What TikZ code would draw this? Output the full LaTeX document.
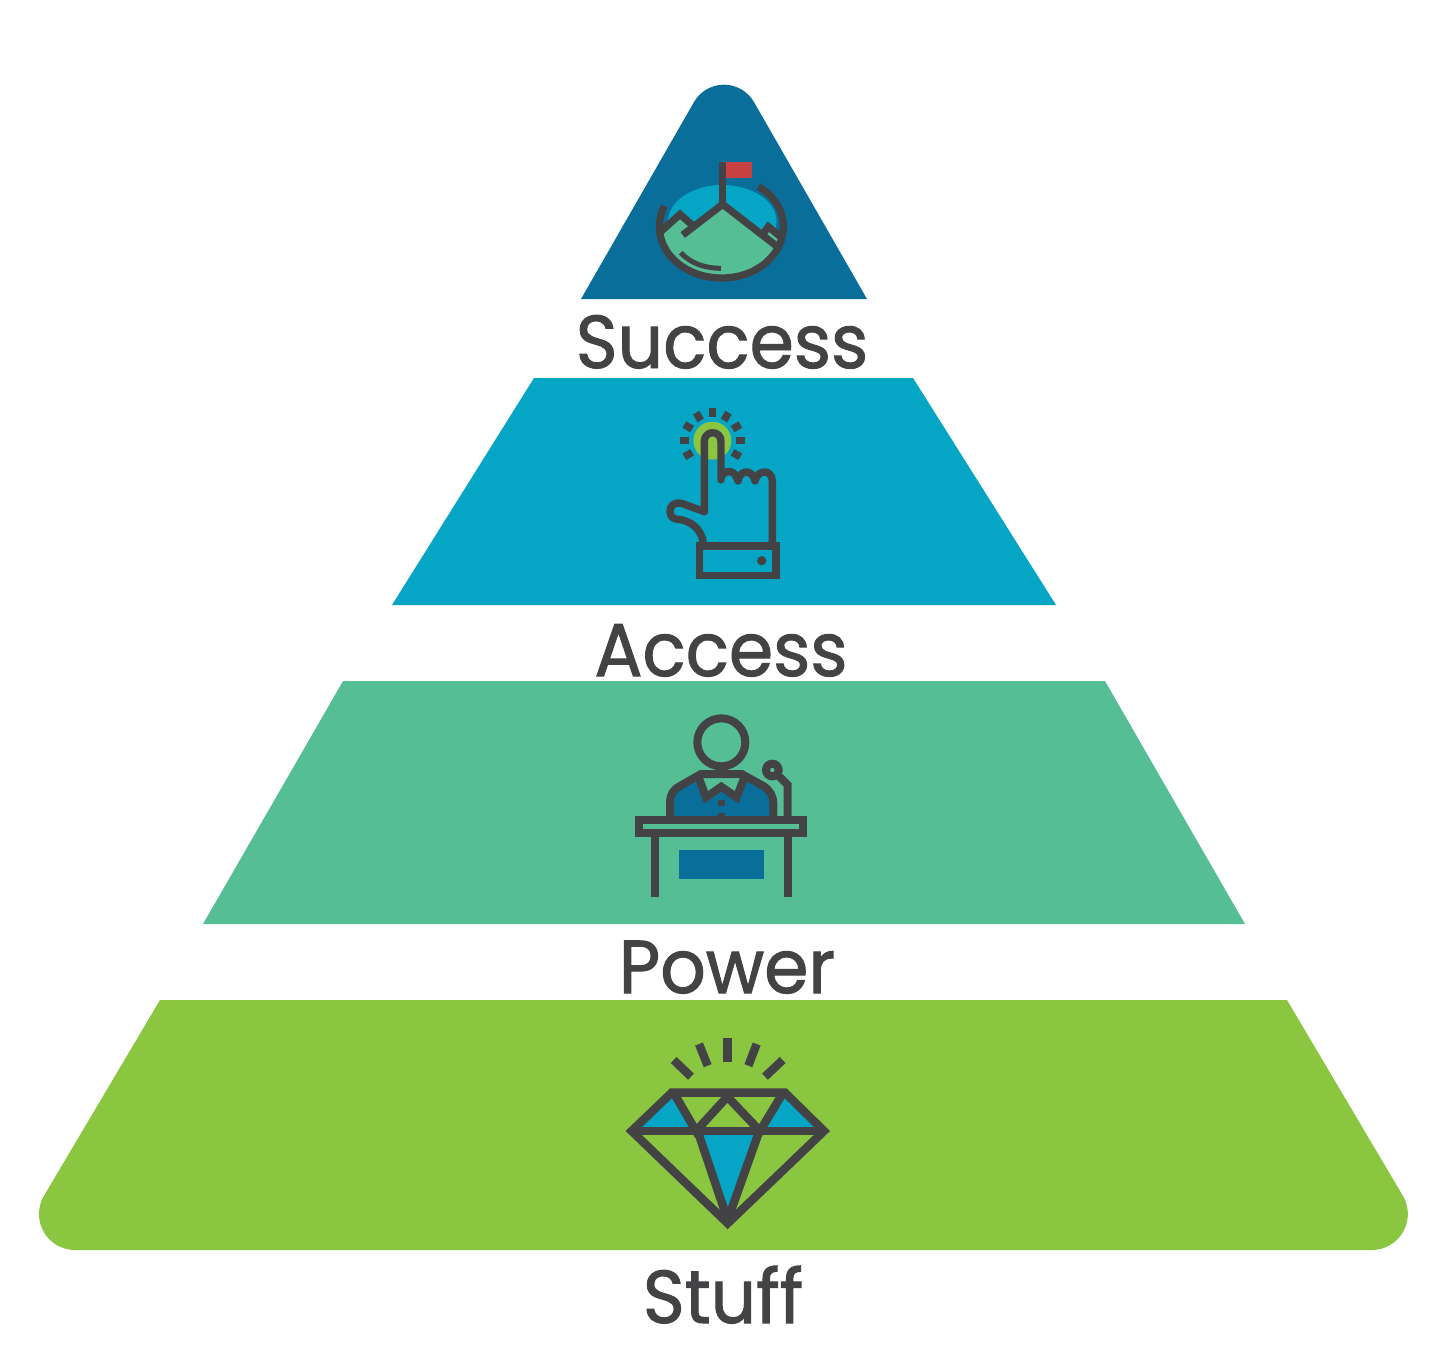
\documentclass[tikz,border=0pt]{standalone}
\usepackage{fontspec}
\setmainfont[FakeStretch=0.95,FakeBold=1.3]{Poppins}
\definecolor{navy}{HTML}{0A6E9B}
\definecolor{teal}{HTML}{05A5C6}
\definecolor{mint}{HTML}{56BE95}
\definecolor{lime}{HTML}{8BC641}
\definecolor{ink}{HTML}{434345}
\definecolor{flag}{HTML}{C8403F}
\tikzset{
  icon/.style n args={3}{shift={(#1pt,-#2pt)},x=0.33333pt,y=-0.33333pt,line width=#3pt,draw=ink,line join=miter},
  lbl/.style={anchor=base,text=ink,inner sep=0pt,font=\fontsize{75}{75}\selectfont}
}
\begin{document}
\begin{tikzpicture}[x=1pt,y=-1pt]
\useasboundingbox (0,0) rectangle (1456,1350);
% tiers
\fill[navy] (581,299) -- (694,102) arc [start angle=210,end angle=330,radius=34.6] -- (867,299) -- cycle;
\fill[teal] (534,378) -- (913,378) -- (1056,605) -- (392,605) -- cycle;
\fill[mint] (343,681) -- (1105,681) -- (1245,924) -- (203,924) -- cycle;
\fill[lime] (160,1000) -- (1287,1000) -- (1403,1196) arc [start angle=-30,end angle=90,radius=36] -- (75,1250) arc [start angle=90,end angle=210,radius=36] -- cycle;
% labels
\node[lbl] (success) at (722,368) {Success};
\node[lbl] (access) at (721,676) {Access};
\node[lbl] (power) at (727,993) {Power};
\node[lbl] (stuff) at (723,1323) {Stuff};
% mountain icon
\begin{scope}[icon={570}{70}{7.2}]
  \fill[teal] (457,455) ellipse [x radius=163,y radius=110];
  \fill[mint] (268,485) -- (330,435) -- (372,470) -- (458,403) -- (622,530) .. controls (590,590) and (530,624) .. (455,624) .. controls (350,624) and (268,560) .. (268,485) -- cycle;
  \fill[mint] (580,490) -- (595,470) -- (635,503) -- (622,530) -- cycle;
  \fill[flag] (468,275) rectangle (545,325);
  \draw (283,408) .. controls (272,430) and (268,450) .. (268,470) .. controls (268,555) and (350,624) .. (455,624) .. controls (560,624) and (640,555) .. (640,470) .. controls (640,420) and (610,375) .. (565,350);
  \draw (458,275) -- (458,403);
  \draw (338,495) -- (458,403) -- (622,530);
  \draw (272,485) -- (330,433) -- (372,470);
  \draw (580,490) -- (595,470) -- (635,503);
  \draw[line width=5pt] (332,548) .. controls (365,583) and (410,595) .. (453,595);
\end{scope}
% hand icon
\begin{scope}[icon={640}{400}{7.4}]
  \fill[lime] (217,122) circle [radius=57];
  \foreach \a in {-30,0,30,60,90,120,150,180,210}
    \draw ({217+70*cos(\a)},{122-70*sin(\a)}) -- ({217+97*cos(\a)},{122-97*sin(\a)});
  \draw[line join=round,line cap=round] (193,335) -- (193,123) arc [start angle=180,end angle=360,radius=25] -- (243,240);
  \draw[line join=round,line cap=round] (245,228) .. controls (258,208) and (285,208) .. (294,243) .. controls (300,207) and (338,207) .. (345,243) .. controls (352,208) and (397,205) .. (397,245) -- (397,430);
  \draw[line join=round,line cap=round] (193,335) -- (125,310) .. controls (100,305) and (90,320) .. (90,333) .. controls (90,350) and (100,358) .. (115,358) .. controls (150,362) and (185,385) .. (190,430);
  \draw (178,438) rectangle (408,526);
  \fill[ink] (365,482) circle [radius=14];
\end{scope}
% speaker icon
\begin{scope}[icon={620}{710}{8}]
  \fill[navy] (150,320) -- (150,280) .. controls (150,250) and (165,235) .. (180,228) -- (243,192) -- (365,192) -- (430,228) .. controls (450,240) and (460,260) .. (460,280) -- (460,320) -- cycle;
  \fill[mint] (243,192) -- (365,192) -- (350,265) -- (304,230) -- (258,265) -- cycle;
  \draw (304,97) circle [radius=72];
  \draw (150,320) -- (150,280) .. controls (150,250) and (165,235) .. (180,228) -- (243,192) -- (365,192) -- (430,228) .. controls (450,240) and (460,260) .. (460,280) -- (460,320);
  \draw (237,205) -- (258,262) -- (304,230) -- (350,262) -- (372,205);
  \fill[ink] (294,270) rectangle (314,288);
  \fill[ink] (294,310) rectangle (314,325);
  \draw (57,330) rectangle (550,368);
  \draw (104,379) -- (104,560);
  \draw (503,379) -- (503,560);
  \fill[navy] (177,420) rectangle (431,508);
  \draw (457,180) circle [radius=19];
  \draw (478,200) -- (503,225) -- (503,320);
\end{scope}
% diamond icon
\begin{scope}[icon={620}{1030}{8.4}]
  \fill[teal] (155,188) -- (35,303) -- (228,303) -- cycle;
  \fill[teal] (495,188) -- (420,303) -- (612,303) -- cycle;
  \fill[teal] (233,303) -- (418,303) -- (323,570) -- cycle;
  \draw (322,25) -- (322,96);
  \draw (237,42) -- (263,107);
  \draw (161,90) -- (213,140);
  \draw (410,42) -- (385,107);
  \draw (488,90) -- (435,140);
  \draw (35,303) -- (155,188) -- (495,188) -- (612,303) -- (323,580) -- cycle;
  \draw (35,303) -- (612,303);
  \draw (165,195) -- (228,303) -- (322,200) -- (420,303) -- (485,195);
  \draw[line join=bevel] (233,303) -- (323,570) -- (418,303);
\end{scope}
\end{tikzpicture}
\end{document}
